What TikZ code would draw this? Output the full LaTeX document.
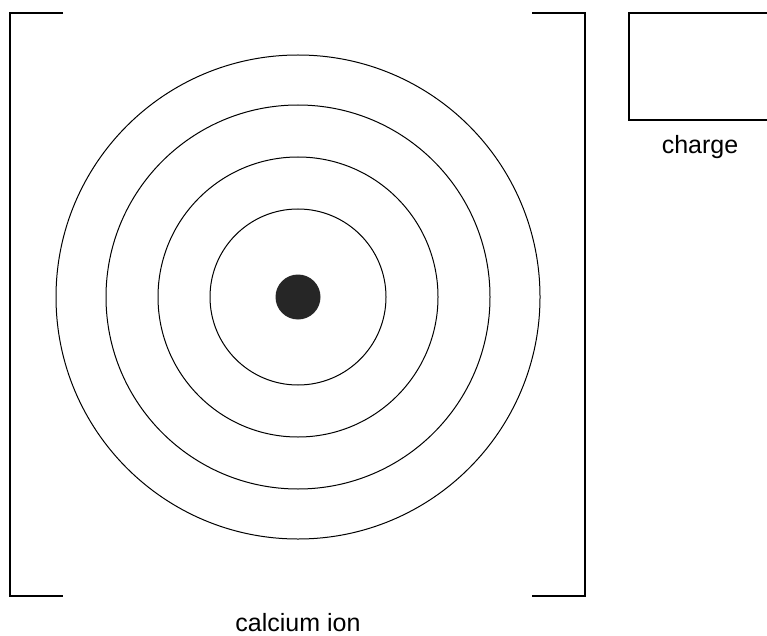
\documentclass[tikz,border=0pt]{standalone}
\usepackage{fontspec}
\setmainfont{Liberation Sans}
\usepackage{tikz}
\usetikzlibrary{positioning}

\tikzset{
  shell/.style={draw, circle, line width=1pt, inner sep=0pt},
  bracket/.style={line width=1.4pt},
  label/.style={font=\fontsize{25}{30}\selectfont}
}

\begin{document}
\begin{tikzpicture}[x=1pt, y=-1pt]
  \useasboundingbox (0,0) rectangle (767,636);

  % Brackets round the ion
  \draw[bracket] (63,13) -- (10,13) -- (10,596) -- (63,596);
  \draw[bracket] (532,13) -- (585,13) -- (585,596) -- (532,596);

  % Nucleus and the four shells
  \node[circle, fill=black!85, minimum size=45pt, inner sep=0pt] (nucleus) at (298,297) {};
  \node[shell, minimum size=176pt] (shell1) at (nucleus) {};
  \node[shell, minimum size=280pt] (shell2) at (nucleus) {};
  \node[shell, minimum size=384pt] (shell3) at (nucleus) {};
  \node[shell, minimum size=484pt] (shell4) at (nucleus) {};

  % Charge box
  \draw[bracket] (775,13) -- (629,13) -- (629,120) -- (775,120);
  \coordinate (chargebox) at (700,120);

  % Labels
  \node[label, below=12pt of chargebox] (charge) {charge};
  \node[label] (ion) at (298,623) {calcium ion};

\end{tikzpicture}
\end{document}
